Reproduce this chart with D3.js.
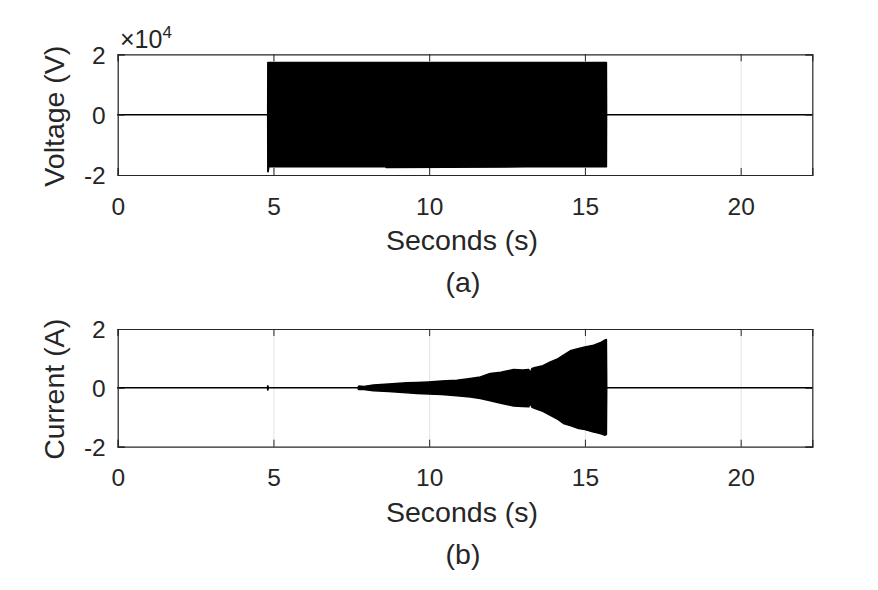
<!DOCTYPE html>
<html>
<head>
<meta charset="utf-8">
<title>Voltage and current</title>
<script src="https://d3js.org/d3.v7.min.js"></script>
<style>
    body { margin: 0; background: #fff; }
    svg { display: block; font-family: "Liberation Sans", Arial, Helvetica, sans-serif; }
    .axis path, .axis line { stroke: #262626; }
    .axis text { fill: #262626; font-size: 24.5px; }
    .grid line { stroke: #e3e3e3; }
    .grid path { display: none; }
    .label { fill: #262626; font-size: 28.5px; }
</style>
</head>
<body>
<div id="holder"></div>
<script>
    const xTicks = [0, 5, 10, 15, 20];
    const yTicks = [-2, 0, 2];

    // (a) voltage envelope, volts
    const voltTime  = [0, 4.815, 4.82, 4.83, 4.85, 8.6, 8.62, 13.1, 13.12, 15.68, 15.69, 15.695, 22.3];
    const voltUpper = [0, 0, 17300, 17300, 17300, 17300, 17300, 17300, 17300, 17300, 17300, 0, 0];
    const voltLower = [0, 0, -18900, -18900, -17300, -17300, -17500, -17300, -17200, -17300, -17300, 0, 0];

    // (b) current envelope, amps
    const currTime  = [0, 4.80, 4.82, 4.84, 7.70, 7.74, 7.90, 8.21, 8.70, 9.28, 9.60, 9.98, 10.40, 10.89, 11.32, 11.64, 11.96, 12.30, 12.71, 13.00, 13.20, 13.24, 13.30, 13.40, 13.65, 13.89, 14.10, 14.31, 14.53, 14.80, 15.00, 15.28, 15.49, 15.65, 15.69, 15.70, 22.3];
    const currUpper = [0, 0, 0.07, 0, 0, 0.06, 0.05, 0.10, 0.13, 0.17, 0.18, 0.20, 0.23, 0.26, 0.32, 0.37, 0.49, 0.53, 0.62, 0.61, 0.62, 0.50, 0.66, 0.69, 0.75, 0.88, 0.97, 1.11, 1.26, 1.34, 1.39, 1.45, 1.53, 1.63, 1.64, 0, 0];
    const currLower = [0, 0, -0.07, 0, 0, -0.06, -0.06, -0.10, -0.12, -0.17, -0.19, -0.21, -0.23, -0.27, -0.31, -0.36, -0.44, -0.52, -0.62, -0.63, -0.64, -0.52, -0.66, -0.70, -0.80, -0.93, -1.05, -1.21, -1.28, -1.38, -1.42, -1.50, -1.55, -1.61, -1.58, 0, 0];

    // Layout
    const w = 878;
    const h = 590;
    const left = 117.7, right = 812.3;

    const svg = d3.select("#holder").append("svg")
        .attr("width", w)
        .attr("height", h);

    const xScale = d3.scaleLinear().domain([0, 22.3]).range([left, right]);

    function panel(top, bottom, yMax, times, upper, lower, yTitle, caption, tickFmt) {
        const yScale = d3.scaleLinear().domain([-yMax, yMax]).range([bottom, top]);
        const g = svg.append("g");
        const ht = bottom - top;

        // white background
        g.append("rect").attr("x", left).attr("y", top)
            .attr("width", right - left).attr("height", ht).attr("fill", "#fff");

        // vertical grid
        g.append("g").attr("class", "grid")
            .attr("transform", "translate(0," + bottom + ")")
            .call(d3.axisBottom(xScale).tickValues(xTicks).tickSize(-ht).tickFormat(""));

        // signal envelope
        const rows = times.map((t, i) => ({t: t, hi: upper[i], lo: lower[i]}));
        const area = d3.area()
            .x(d => xScale(d.t))
            .y0(d => yScale(d.lo))
            .y1(d => yScale(d.hi));
        g.append("path").datum(rows)
            .attr("d", area)
            .attr("fill", "#000")
            .attr("stroke", "#000")
            .attr("stroke-width", 1.5)
            .attr("stroke-linejoin", "round");

        // axes (box with inward ticks)
        const xb = g.append("g").attr("class", "axis")
            .attr("transform", "translate(0," + bottom + ")")
            .call(d3.axisBottom(xScale).tickValues(xTicks).tickSize(-7).tickPadding(22));
        const xt = g.append("g").attr("class", "axis")
            .attr("transform", "translate(0," + top + ")")
            .call(d3.axisTop(xScale).tickValues(xTicks).tickSize(-7).tickFormat(""));
        const yl = g.append("g").attr("class", "axis")
            .attr("transform", "translate(" + left + ",0)")
            .call(d3.axisLeft(yScale).tickValues(yTicks.map(v => v * yMax / 2)).tickSize(-7).tickPadding(12).tickFormat(tickFmt));
        const yr = g.append("g").attr("class", "axis")
            .attr("transform", "translate(" + right + ",0)")
            .call(d3.axisRight(yScale).tickValues(yTicks.map(v => v * yMax / 2)).tickSize(-7).tickFormat(""));
        [xb, xt, yl, yr].forEach(a => a.selectAll("path").attr("stroke-width", 1.2));
        xb.selectAll("text").attr("dy", null).attr("y", 39.5);
        yl.selectAll("text").attr("dy", "0.36em");

        // labels
        svg.append("text").attr("class", "label")
            .attr("text-anchor", "middle")
            .attr("transform", "translate(64," + ((top + bottom) / 2 + 1.5) + ") rotate(-90)")
            .text(yTitle);
        svg.append("text").attr("class", "label")
            .attr("text-anchor", "middle")
            .attr("x", (left + right) / 2 - 3)
            .attr("y", bottom + 75)
            .text("Seconds (s)");
        svg.append("text").attr("class", "label")
            .attr("text-anchor", "middle")
            .attr("x", (left + right) / 2 - 2)
            .attr("y", bottom + 117)
            .text(caption);
        return g;
    }

    panel(54.3, 175, 20000, voltTime, voltUpper, voltLower, "Voltage (V)", "(a)", d => d / 10000);
    panel(329, 446.7, 2, currTime, currUpper, currLower, "Current (A)", "(b)", d => d);

    // exponent label for the voltage axis
    const ex = svg.append("text")
        .attr("x", 120).attr("y", 48.3)
        .attr("fill", "#262626")
        .style("font-size", "25px");
    ex.append("tspan").text("\u00d710");
    ex.append("tspan").attr("dy", -10).style("font-size", "17px").text("4");
</script>
</body>
</html>
